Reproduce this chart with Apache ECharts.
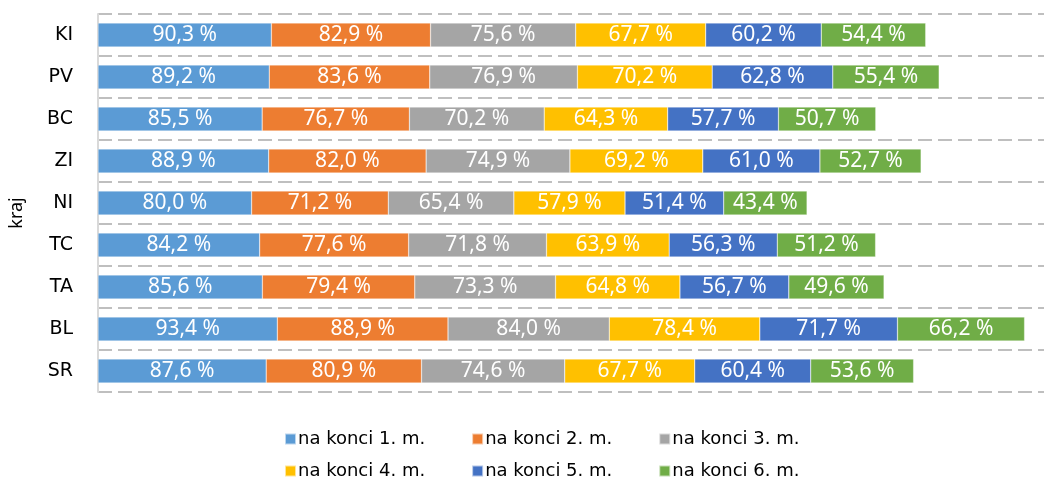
<!DOCTYPE html>
<html>
<head>
<meta charset="utf-8">
<script src="https://cdn.jsdelivr.net/npm/echarts@6/dist/echarts.min.js"></script>
<style>
  html, body { margin: 0; padding: 0; background: #fff; }
</style>
</head>
<body>
<div id="main" style="width: 1044px; height: 482px"></div>
<script>
// kraje, shora dolu
const kraje = ["KI", "PV", "BC", "ZI", "NI", "TC", "TA", "BL", "SR"];
const mesice = ["na konci 1. m.", "na konci 2. m.", "na konci 3. m.", "na konci 4. m.", "na konci 5. m.", "na konci 6. m."];
const barvy = ["#5B9BD5", "#ED7D31", "#A5A5A5", "#FFC000", "#4472C4", "#70AD47"];

// hodnoty v % pro kazdy mesic (poradi jako kraje)
const m1 = [90.3, 89.2, 85.5, 88.9, 80.0, 84.2, 85.6, 93.4, 87.6];
const m2 = [82.9, 83.6, 76.7, 82.0, 71.2, 77.6, 79.4, 88.9, 80.9];
const m3 = [75.6, 76.9, 70.2, 74.9, 65.4, 71.8, 73.3, 84.0, 74.6];
const m4 = [67.7, 70.2, 64.3, 69.2, 57.9, 63.9, 64.8, 78.4, 67.7];
const m5 = [60.2, 62.8, 57.7, 61.0, 51.4, 56.3, 56.7, 71.7, 60.4];
const m6 = [54.4, 55.4, 50.7, 52.7, 43.4, 51.2, 49.6, 66.2, 53.6];
const hodnoty = [m1, m2, m3, m4, m5, m6];

const myChart = echarts.init(document.getElementById("main"));

const series = hodnoty.map((data, i) => ({
  name: mesice[i],
  type: "bar",
  stack: "celkem",
  data: data,
  barCategoryGap: "43%",
  itemStyle: { color: barvy[i], borderColor: "rgba(255,255,255,0.6)", borderWidth: 0.5 },
  label: {
    show: true,
    position: "inside",
    color: "#fff",
    fontFamily: "Noto Sans",
    fontSize: 21,
    formatter: (p) => p.value.toFixed(1).replace(".", ",") + " %",
  },
}));

const legendCommon = {
  icon: "rect",
  itemWidth: 11,
  itemHeight: 11,
  itemGap: 46,
  left: 279,
  textStyle: { fontFamily: "DejaVu Sans", fontSize: 18, color: "#000", padding: [0, 0, 0, -3] },
};

let options = {
  animation: false,
  grid: { left: 98, top: 14, width: 960, height: 378, outerBoundsMode: "none" },
  legend: [
    Object.assign({ top: 425, data: mesice.slice(0, 3) }, legendCommon),
    Object.assign({ top: 457, data: mesice.slice(3) }, legendCommon),
  ],
  xAxis: {
    type: "value",
    min: 0,
    max: 500,
    show: false,
  },
  yAxis: {
    type: "category",
    data: kraje,
    inverse: true,
    name: "kraj",
    nameLocation: "middle",
    nameGap: 72,
    nameTextStyle: { fontFamily: "Noto Sans", fontSize: 18, color: "#000", padding: [0, 20, 0, 0] },
    axisLine: { lineStyle: { color: "#d9d9d9", width: 2 } },
    axisTick: { show: false },
    axisLabel: { margin: 25, fontFamily: "DejaVu Sans", fontSize: 19, color: "#000" },
    splitLine: { show: true, lineStyle: { color: "#bfbfbf", width: 2, type: [14, 6] } },
  },
  series: series,
};

myChart.setOption(options);
</script>
</body>
</html>
